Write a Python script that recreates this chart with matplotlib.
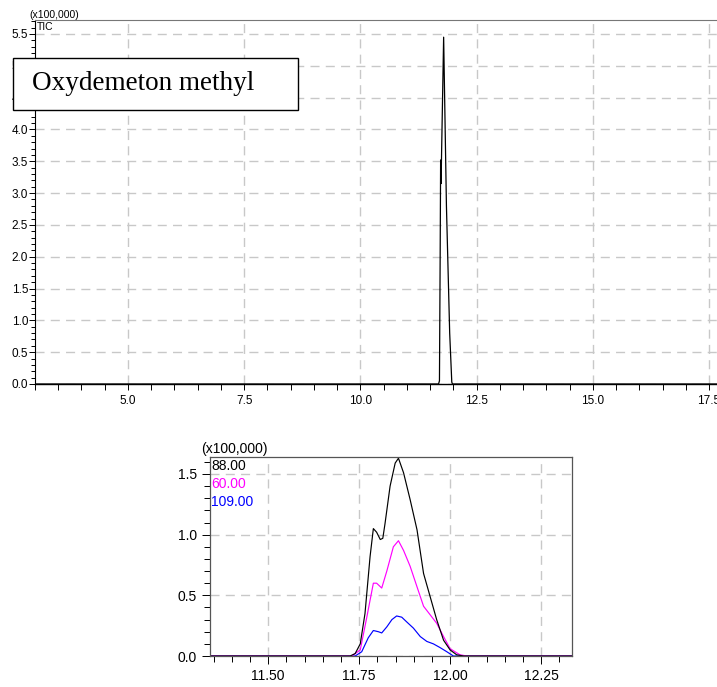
import matplotlib
matplotlib.use("Agg")
import matplotlib.pyplot as plt
from matplotlib.patches import Rectangle
from matplotlib.ticker import MultipleLocator, FormatStrFormatter

plt.rcParams['font.family'] = ['Liberation Sans', 'DejaVu Sans']

# TIC trace (x100,000)
tic_t = [3.0, 11.68, 11.70, 11.715, 11.725, 11.735, 11.745, 11.79, 11.85, 11.92, 11.965, 11.98, 17.8]
tic_v = [0.0, 0.0, 0.05, 2.0, 3.52, 3.15, 3.6, 5.45, 2.8, 0.8, 0.03, 0.0, 0.0]

# ion traces (x100,000)
ion88_t = [11.30, 11.725, 11.739, 11.753, 11.766, 11.780, 11.789, 11.798, 11.808, 11.815, 11.821,
           11.835, 11.849, 11.858, 11.872, 11.890, 11.909, 11.927, 11.945, 11.963, 11.982,
           12.000, 12.018, 12.037, 12.40]
ion88_v = [0.0, 0.0, 0.02, 0.10, 0.35, 0.82, 1.05, 1.02, 0.96, 0.97, 1.09,
           1.40, 1.59, 1.63, 1.51, 1.29, 1.04, 0.68, 0.49, 0.30, 0.13,
           0.05, 0.01, 0.0, 0.0]

ion60_t = [11.30, 11.73, 11.753, 11.771, 11.789, 11.798, 11.812, 11.826, 11.844, 11.858, 11.872,
           11.890, 11.909, 11.927, 11.945, 11.963, 11.982, 12.000, 12.027, 12.046, 12.40]
ion60_v = [0.0, 0.0, 0.05, 0.32, 0.60, 0.60, 0.56, 0.70, 0.90, 0.95, 0.87,
           0.74, 0.57, 0.41, 0.34, 0.27, 0.16, 0.06, 0.01, 0.0, 0.0]

ion109_t = [11.30, 11.739, 11.757, 11.775, 11.789, 11.803, 11.812, 11.826, 11.840, 11.853, 11.867,
            11.881, 11.899, 11.918, 11.936, 11.954, 11.972, 11.991, 12.009, 12.40]
ion109_v = [0.0, 0.0, 0.035, 0.15, 0.21, 0.20, 0.19, 0.24, 0.30, 0.33, 0.32,
            0.28, 0.23, 0.16, 0.12, 0.10, 0.07, 0.035, 0.0, 0.0]

ion_labels = ['88.00', '60.00', '109.00']
ion_colors = ['black', '#ff00ff', 'blue']

fig = plt.figure(figsize=(7.17, 6.87), dpi=100)
W, H = 717, 687

def box(l, t, r, b):
    return [l / W, 1 - b / H, (r - l) / W, (b - t) / H]

grid_kw = dict(color='#c8c8c8', linestyle=(0, (6.5, 4.5)), linewidth=1.0)

# ---- top: TIC ----
ax1 = fig.add_axes(box(35, 20, 717, 384))
ax1.plot(tic_t, tic_v, color='black', lw=0.9)
ax1.set_xlim(3.0, 17.67)
ax1.set_ylim(0, 5.72)
ax1.xaxis.set_major_locator(MultipleLocator(2.5))
ax1.xaxis.set_minor_locator(MultipleLocator(0.5))
ax1.yaxis.set_major_locator(MultipleLocator(0.5))
ax1.yaxis.set_minor_locator(MultipleLocator(0.1))
ax1.xaxis.set_major_formatter(FormatStrFormatter('%.1f'))
ax1.yaxis.set_major_formatter(FormatStrFormatter('%.1f'))
ax1.grid(True, **grid_kw)
ax1.tick_params(which='both', direction='out', labelsize=8.5, pad=1, width=0.7)
ax1.tick_params(which='major', length=4)
ax1.tick_params(which='minor', length=3)
ax1.tick_params(axis='x', which='both', length=4)
ax1.tick_params(axis='x', pad=4)
ax1.spines['right'].set_visible(False)
ax1.spines['top'].set_color('#777777')
ax1.spines['left'].set_linewidth(0.8)
ax1.spines['bottom'].set_linewidth(1.0)
fig.text(29 / W, 1 - 15 / H, '(x100,000)', fontsize=7.5, va='center', ha='left')
fig.text(37 / W, 1 - 27 / H, 'TIC', fontsize=7.5, va='center', ha='left')

# name box
fig.patches.append(Rectangle((13 / W, 1 - 110 / H), (298 - 13) / W, (110 - 58) / H,
                             transform=fig.transFigure, facecolor='white',
                             edgecolor='black', lw=1.0, zorder=5))
fig.text(32 / W, 1 - 84 / H, 'Oxydemeton methyl', family='Liberation Serif',
         fontsize=19.5, va='center', ha='left', zorder=6)

# ---- bottom: ion chromatograms ----
ax2 = fig.add_axes(box(210, 457, 572, 656))
for t, v, c in zip([ion109_t, ion60_t, ion88_t], [ion109_v, ion60_v, ion88_v],
                   ['blue', '#ff00ff', 'black']):
    ax2.plot(t, v, color=c, lw=0.85)
ax2.set_xlim(11.34, 12.335)
ax2.set_ylim(0, 1.64)
ax2.xaxis.set_major_locator(MultipleLocator(0.25))
ax2.xaxis.set_minor_locator(MultipleLocator(0.05))
ax2.yaxis.set_major_locator(MultipleLocator(0.5))
ax2.yaxis.set_minor_locator(MultipleLocator(0.1))
ax2.xaxis.set_major_formatter(FormatStrFormatter('%.2f'))
ax2.yaxis.set_major_formatter(FormatStrFormatter('%.1f'))
ax2.grid(True, **grid_kw)
ax2.tick_params(which='both', direction='out', labelsize=10, width=0.7)
ax2.tick_params(which='major', length=6)
ax2.tick_params(which='minor', length=4)
for s in ax2.spines.values():
    s.set_color('#555555')
    s.set_linewidth(0.9)
fig.text(201 / W, 1 - 449 / H, '(x100,000)', fontsize=10, va='center', ha='left')
for i, (lab, c) in enumerate(zip(ion_labels, ion_colors)):
    fig.text(211 / W, 1 - (466 + 18 * i) / H, lab, color=c, fontsize=10,
             va='center', ha='left')

fig.savefig('out.png', dpi=100)
